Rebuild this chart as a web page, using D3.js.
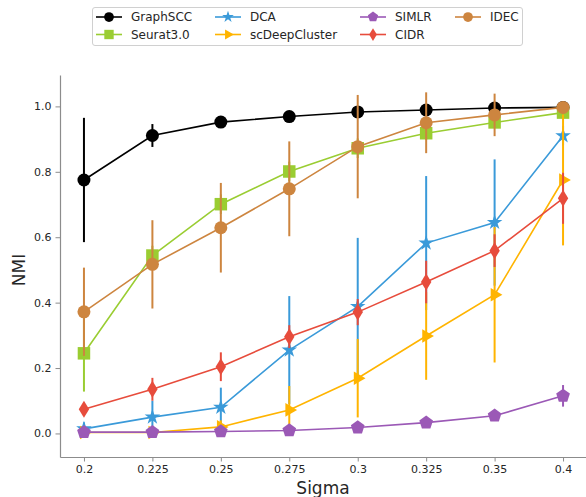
<!DOCTYPE html>
<html>
<head>
<meta charset="utf-8">
<script src="https://cdn.jsdelivr.net/npm/d3@7"></script>
<style>
  body { margin: 0; background: #fff; }
  svg { font-family: "DejaVu Sans", sans-serif; }
</style>
</head>
<body>
<svg id="chart" width="586" height="497"></svg>
<script>
// sigma values (categorical x positions)
const sigmas = ['0.2', '0.225', '0.25', '0.275', '0.3', '0.325', '0.35', '0.4'];
const yTicks = [0.0, 0.2, 0.4, 0.6, 0.8, 1.0];

// NMI means and error half-widths
const graphSCC      = [0.775, 0.911, 0.952, 0.969, 0.983, 0.989, 0.995, 0.997];
const graphSCCErr   = [0.19, 0.035, 0.012, 0.01, 0.008, 0.006, 0.004, 0.003];
const seurat        = [0.245, 0.544, 0.701, 0.801, 0.872, 0.918, 0.951, 0.981];
const seuratErr     = [0.117, 0.03, 0.03, 0.03, 0.03, 0.02, 0.015, 0.01];
const dca           = [0.014, 0.050, 0.080, 0.255, 0.388, 0.582, 0.645, 0.910];
const dcaErr        = [0.02, 0.05, 0.06, 0.165, 0.21, 0.205, 0.193, 0.03];
const scDeep        = [0.003, 0.003, 0.02, 0.072, 0.169, 0.298, 0.424, 0.775];
const scDeepErr     = [0.01, 0.01, 0.02, 0.073, 0.12, 0.134, 0.207, 0.2];
const simlr         = [0.004, 0.004, 0.006, 0.009, 0.018, 0.033, 0.054, 0.115];
const simlrErr      = [0.003, 0.003, 0.003, 0.004, 0.006, 0.008, 0.01, 0.033];
const cidr          = [0.074, 0.135, 0.204, 0.296, 0.371, 0.463, 0.559, 0.719];
const cidrErr       = [0.02, 0.035, 0.044, 0.035, 0.04, 0.065, 0.05, 0.078];
const idec          = [0.372, 0.517, 0.629, 0.748, 0.877, 0.950, 0.974, 0.997];
const idecErr       = [0.135, 0.135, 0.137, 0.145, 0.158, 0.093, 0.065, 0.01];

const seriesNames = ['GraphSCC', 'Seurat3.0', 'DCA', 'scDeepCluster', 'SIMLR', 'CIDR', 'IDEC'];

const series = [
    {name: seriesNames[0], values: graphSCC, err: graphSCCErr, color: '#000000', marker: 'circle'},
    {name: seriesNames[1], values: seurat, err: seuratErr, color: '#9ACD32', marker: 'square'},
    {name: seriesNames[2], values: dca, err: dcaErr, color: '#3A9AD9', marker: 'star'},
    {name: seriesNames[3], values: scDeep, err: scDeepErr, color: '#FFB400', marker: 'triangle'},
    {name: seriesNames[4], values: simlr, err: simlrErr, color: '#9B59B6', marker: 'pentagon'},
    {name: seriesNames[5], values: cidr, err: cidrErr, color: '#E74C3C', marker: 'diamond'},
    {name: seriesNames[6], values: idec, err: idecErr, color: '#CD853F', marker: 'circle'}
];

const MARGIN = {top: 75, right: 0, bottom: 40, left: 60};
const WIDTH = 586, HEIGHT = 497;
const AXIS_COLOR = '#8c8c8c';
const TEXT_COLOR = '#262626';

const svg = d3.select('#chart');

const xScale = d3.scalePoint()
    .domain(sigmas)
    .range([MARGIN.left, 587])
    .padding(0.35);

const yScale = d3.scaleLinear()
    .domain([-0.072, 1.096])
    .range([HEIGHT - MARGIN.bottom, MARGIN.top]);

// marker shape paths centred at 0,0
function markerPath(type, s) {
    if (type === 'circle') return d3.symbol(d3.symbolCircle, Math.PI * (6.5 * s) ** 2)();
    if (type === 'square') return d3.symbol(d3.symbolSquare, (12.5 * s) ** 2)();
    if (type === 'star') return d3.symbol(d3.symbolStar, 75 * s * s)();
    if (type === 'triangle') {
        let r = 7.8 * s;
        return `M${r},0L${-r * 0.5},${-r * 0.87}L${-r * 0.5},${r * 0.87}Z`;
    }
    if (type === 'pentagon') {
        let r = 7.2 * s;
        let pts = d3.range(5).map(i => {
            let a = -Math.PI / 2 + i * 2 * Math.PI / 5;
            return [r * Math.cos(a), r * Math.sin(a)];
        });
        return 'M' + pts.map(p => p.join(',')).join('L') + 'Z';
    }
    if (type === 'diamond') {
        let h = 8.5 * s, w = 5.2 * s;
        return `M0,${-h}L${w},0L0,${h}L${-w},0Z`;
    }
}

// axes
let xAxis = d3.axisBottom(xScale).tickSize(4.5).tickSizeOuter(0).tickPadding(4);
let xAxisG = svg.append('g')
    .attr('transform', `translate(0, ${HEIGHT - MARGIN.bottom})`)
    .call(xAxis);

let yAxis = d3.axisLeft(yScale)
    .tickValues(yTicks)
    .tickFormat(d3.format('.1f'))
    .tickSize(4.5)
    .tickSizeOuter(0)
    .tickPadding(4);
let yAxisG = svg.append('g')
    .attr('transform', `translate(${MARGIN.left}, 0)`)
    .call(yAxis);

[xAxisG, yAxisG].forEach(g => {
    g.select('.domain').attr('stroke', AXIS_COLOR).attr('stroke-width', 1.2);
    g.selectAll('.tick line').attr('stroke', AXIS_COLOR).attr('stroke-width', 1);
    g.selectAll('.tick text')
        .attr('fill', TEXT_COLOR)
        .style('font-size', '11px')
        .style('font-family', '"DejaVu Sans", sans-serif');
});

// axis labels
svg.append('text')
    .attr('x', 323)
    .attr('y', 494)
    .attr('text-anchor', 'middle')
    .attr('fill', TEXT_COLOR)
    .style('font-size', '17px')
    .text('Sigma');

svg.append('text')
    .attr('transform', `translate(25, ${yScale(0.5)}) rotate(-90)`)
    .attr('text-anchor', 'middle')
    .attr('fill', TEXT_COLOR)
    .style('font-size', '17px')
    .text('NMI');

// series: error bars, then line and markers
let content = svg.append('g');
let line = d3.line()
    .x((d, i) => xScale(sigmas[i]))
    .y(d => yScale(d));

series.forEach(s => {
    let g = content.append('g');

    g.selectAll('line.err')
        .data(s.values)
        .join('line')
        .attr('class', 'err')
        .attr('x1', (d, i) => xScale(sigmas[i]))
        .attr('x2', (d, i) => xScale(sigmas[i]))
        .attr('y1', (d, i) => yScale(d - s.err[i]))
        .attr('y2', (d, i) => yScale(d + s.err[i]))
        .attr('stroke', s.color)
        .attr('stroke-width', 2);

    g.append('path')
        .datum(s.values)
        .attr('d', line)
        .attr('fill', 'none')
        .attr('stroke', s.color)
        .attr('stroke-width', 1.6);

    g.selectAll('path.marker')
        .data(s.values)
        .join('path')
        .attr('class', 'marker')
        .attr('transform', (d, i) => `translate(${xScale(sigmas[i])}, ${yScale(d)})`)
        .attr('d', markerPath(s.marker, 1))
        .attr('fill', s.color);
});

// legend
let legend = svg.append('g');
legend.append('rect')
    .attr('x', 92.5)
    .attr('y', 7.5)
    .attr('width', 430)
    .attr('height', 38)
    .attr('rx', 2.5)
    .attr('fill', 'white')
    .attr('stroke', '#d0d0d0')
    .attr('stroke-width', 1);

const colX = [96, 215, 360, 455];
const rowY = [17, 34.5];

series.forEach((s, k) => {
    let col = Math.floor(k / 2), row = k % 2;
    let item = legend.append('g')
        .attr('transform', `translate(${colX[col]}, ${rowY[row]})`);
    item.append('line')
        .attr('x1', 0).attr('x2', 26)
        .attr('stroke', s.color)
        .attr('stroke-width', 1.6);
    item.append('path')
        .attr('transform', 'translate(13, 0)')
        .attr('d', markerPath(s.marker, 0.75))
        .attr('fill', s.color);
    item.append('text')
        .attr('x', 35)
        .attr('dy', '0.35em')
        .attr('fill', TEXT_COLOR)
        .style('font-size', '12px')
        .text(s.name);
});
</script>
</body>
</html>
